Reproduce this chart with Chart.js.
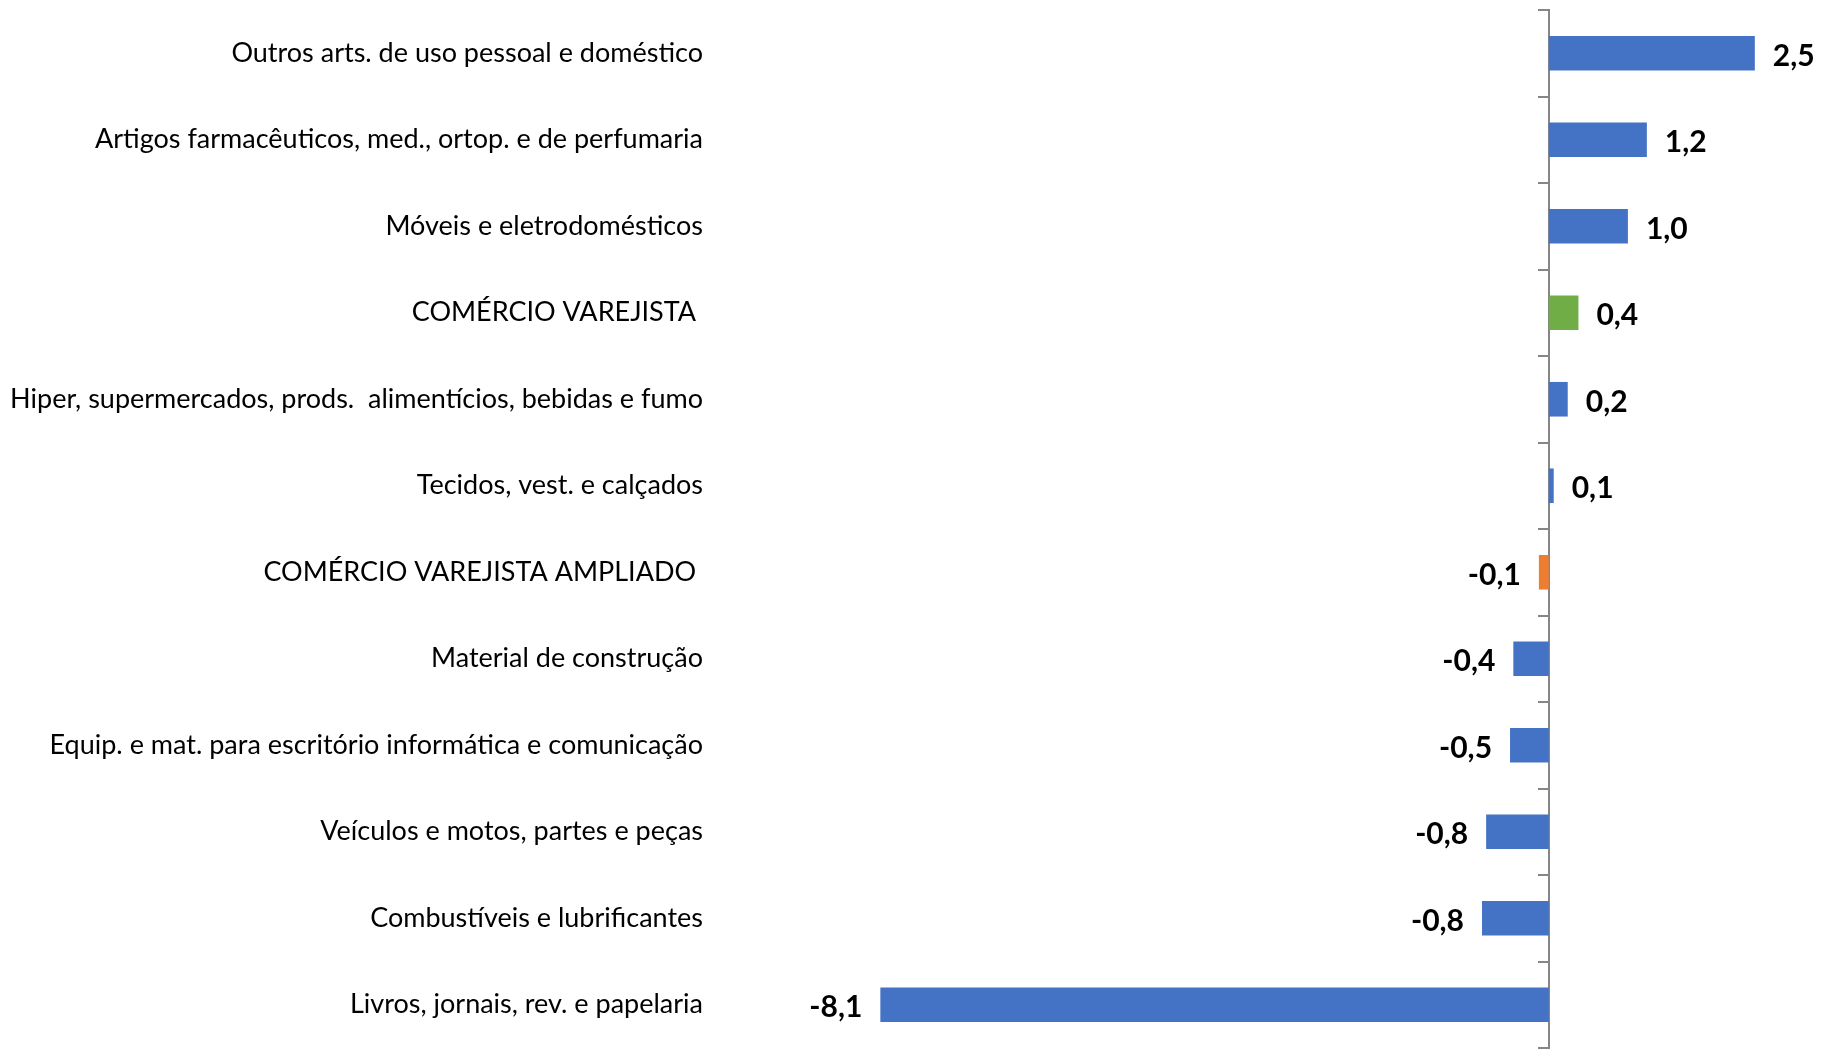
<!DOCTYPE html>
<html>
<head>
<meta charset="utf-8">
<script src="https://cdn.jsdelivr.net/npm/chart.js@4.4.1/dist/chart.umd.min.js"></script>
<style>
  html, body { margin: 0; padding: 0; background: #fff; }
  #wrap { width: 1829px; height: 1049px; position: relative; }
</style>
</head>
<body>
<div id="wrap"><canvas id="chart"></canvas></div>
<script>
// categorias (de cima para baixo)
const categorias = [
  'Outros arts. de uso pessoal e doméstico',
  'Artigos farmacêuticos, med., ortop. e de perfumaria',
  'Móveis e eletrodomésticos',
  'COMÉRCIO VAREJISTA ',
  'Hiper, supermercados, prods.  alimentícios, bebidas e fumo',
  'Tecidos, vest. e calçados',
  'COMÉRCIO VAREJISTA AMPLIADO ',
  'Material de construção',
  'Equip. e mat. para escritório informática e comunicação',
  'Veículos e motos, partes e peças',
  'Combustíveis e lubrificantes',
  'Livros, jornais, rev. e papelaria'
];

// variação (%)
const variacao = [2.50, 1.19, 0.96, 0.36, 0.23, 0.06, -0.12, -0.43, -0.47, -0.76, -0.81, -8.11];

// cores das barras
const azul = '#4472C4';
const verde = '#70AD47';
const laranja = '#ED7D31';
const corBarras = [azul, azul, azul, verde, azul, azul, laranja, azul, azul, azul, azul, azul];

const corEixo = '#868686';

// rótulos de valor no fim de cada barra
const rotulosValor = {
  id: 'rotulosValor',
  afterDatasetsDraw(chart) {
    const ctx = chart.ctx;
    const meta = chart.getDatasetMeta(0);
    ctx.save();
    ctx.font = 'bold 30px Lato';
    ctx.fillStyle = '#000';
    ctx.textBaseline = 'middle';
    meta.data.forEach((bar, i) => {
      const v = variacao[i];
      const txt = v.toFixed(1).replace('.', ',');
      if (v >= 0) {
        ctx.textAlign = 'left';
        ctx.fillText(txt, bar.x + 18, bar.y + 3);
      } else {
        ctx.textAlign = 'right';
        ctx.fillText(txt, bar.x - 18, bar.y + 3);
      }
    });
    ctx.restore();
  }
};

const ctx = document.getElementById('chart');
const grafico = new Chart(ctx, {
  type: 'bar',
  data: {
    labels: categorias,
    datasets: [{
      data: variacao,
      backgroundColor: corBarras,
      borderWidth: 0,
      barPercentage: 0.4,
      categoryPercentage: 1
    }]
  },
  options: {
    indexAxis: 'y',
    responsive: true,
    maintainAspectRatio: false,
    animation: false,
    layout: { padding: { top: 10, bottom: 1, left: 0, right: 0 } },
    plugins: {
      legend: { display: false },
      tooltip: { enabled: false }
    },
    scales: {
      x: {
        display: false,
        min: -9,
        max: 3.4
      },
      y: {
        position: 'left',
        grid: { display: false, drawTicks: false },
        border: { display: false },
        ticks: {
          color: '#000',
          padding: 104,
          font: { family: 'Lato', size: 27 }
        },
        afterFit: (scale) => {
          scale.width = 807;
          // o padding dos rótulos não deve empurrar a área do gráfico
          scale.paddingTop = 0;
          scale.paddingBottom = 0;
        }
      },
      // eixo das categorias passando pelo zero
      y2: {
        type: 'category',
        position: { x: 0 },
        offset: true,
        z: 1,
        grid: {
          offset: true,
          drawOnChartArea: false,
          drawTicks: true,
          tickLength: 10,
          color: corEixo,
          lineWidth: 2
        },
        border: { display: true, color: corEixo, width: 2 },
        ticks: { display: false }
      }
    }
  },
  plugins: [rotulosValor]
});
</script>
</body>
</html>
